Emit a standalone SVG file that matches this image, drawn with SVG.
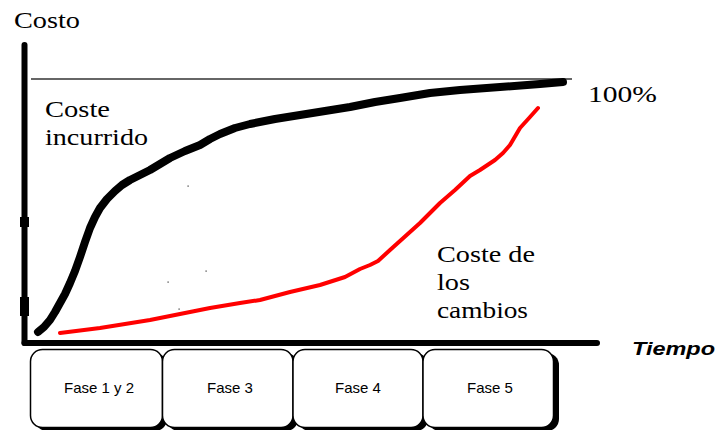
<svg xmlns="http://www.w3.org/2000/svg" width="719" height="430" viewBox="0 0 719 430">
<style>
text.serif{font-family:"Liberation Serif","Times New Roman","DejaVu Serif",serif;font-size:23px;fill:#000}
.box{fill:#fff;stroke:#000;stroke-width:1.5}
.shadow{fill:#000}
text.lbl{font-family:"Liberation Sans",Arial,sans-serif;font-size:15px;fill:#000;text-anchor:middle}
.curve{fill:none;stroke-linecap:round;stroke-linejoin:round}
</style>
<rect width="719" height="430" fill="#fff"/>
<g id="axes">
<line x1="24.5" y1="45" x2="24.5" y2="343" stroke="#000" stroke-width="6" stroke-linecap="round"/>
<line x1="24.5" y1="343" x2="597" y2="343" stroke="#000" stroke-width="6" stroke-linecap="round"/>
<rect x="20" y="217" width="9" height="10" fill="#000"/>
<rect x="20" y="297" width="9" height="19" fill="#000"/>
<line x1="31" y1="79" x2="572" y2="79" stroke="#333" stroke-width="1.3"/>
</g>
<g id="curves">
<polyline class="curve" stroke="#000" stroke-width="8" points="38,332 44,327 50,320 55,312 60,303 65,294 70,283 75,271 80,257 85,242 90,228 95,217 100,208 107,199 115,191 122,185 130,180 140,175 150,170 160,164 170,158 185,151 200,145 210,139 220,134 235,128 250,124 275,119 300,115 325,111 350,107 375,102 400,98 430,93 460,90 500,87 540,84 563,82"/>
<polyline class="curve" stroke="#f00" stroke-width="4" points="60,333 100,328 150,320 180,314 210,308 240,303 260,300 290,292 320,285 345,277 360,269 370,265 378,261 390,250 400,241 420,223 440,203 455,190 470,176 480,170 495,160 503,153 510,145 520,128 530,117 538,108"/>
</g>
<g id="specks" fill="#333">
<rect x="187.5" y="185.5" width="1.2" height="1.2"/>
<rect x="205.5" y="270.5" width="1.2" height="1.2"/>
<rect x="167.5" y="281.5" width="1.2" height="1.2"/>
<rect x="178.5" y="308.5" width="1.2" height="1.2"/>
</g>
<g id="labels">
<text class="serif" x="14" y="28" textLength="66" lengthAdjust="spacingAndGlyphs">Costo</text>
<text class="serif" x="45" y="117" textLength="65" lengthAdjust="spacingAndGlyphs">Coste</text>
<text class="serif" x="45" y="145" textLength="103" lengthAdjust="spacingAndGlyphs">incurrido</text>
<text class="serif" x="588" y="102" textLength="69" lengthAdjust="spacingAndGlyphs">100%</text>
<text class="serif" x="437" y="262" textLength="98" lengthAdjust="spacingAndGlyphs">Coste de</text>
<text class="serif" x="437" y="290" textLength="33" lengthAdjust="spacingAndGlyphs">los</text>
<text class="serif" x="437" y="318" textLength="91" lengthAdjust="spacingAndGlyphs">cambios</text>
<text x="632" y="355" font-family="Liberation Sans,Arial,sans-serif" font-size="18" font-weight="bold" font-style="italic" textLength="83" lengthAdjust="spacingAndGlyphs">Tiempo</text>
</g>
<g id="shadows">
<rect class="shadow" x="35" y="353" width="132" height="78" rx="12"/>
<rect class="shadow" x="167" y="353" width="131" height="78" rx="12"/>
<rect class="shadow" x="298" y="353" width="130" height="78" rx="12"/>
<rect class="shadow" x="428" y="353" width="131" height="78" rx="12"/>
</g>
<g id="fase12"><rect class="box" x="30.5" y="349.5" width="132" height="78" rx="12"/><text class="lbl" x="99" y="393">Fase 1 y 2</text></g>
<g id="fase3"><rect class="box" x="162.5" y="349.5" width="130.5" height="78" rx="12"/><text class="lbl" x="230" y="393">Fase 3</text></g>
<g id="fase4"><rect class="box" x="293" y="349.5" width="130" height="78" rx="12"/><text class="lbl" x="358" y="393">Fase 4</text></g>
<g id="fase5"><rect class="box" x="423" y="349.5" width="130.5" height="78" rx="12"/><text class="lbl" x="490" y="393">Fase 5</text></g>
</svg>
